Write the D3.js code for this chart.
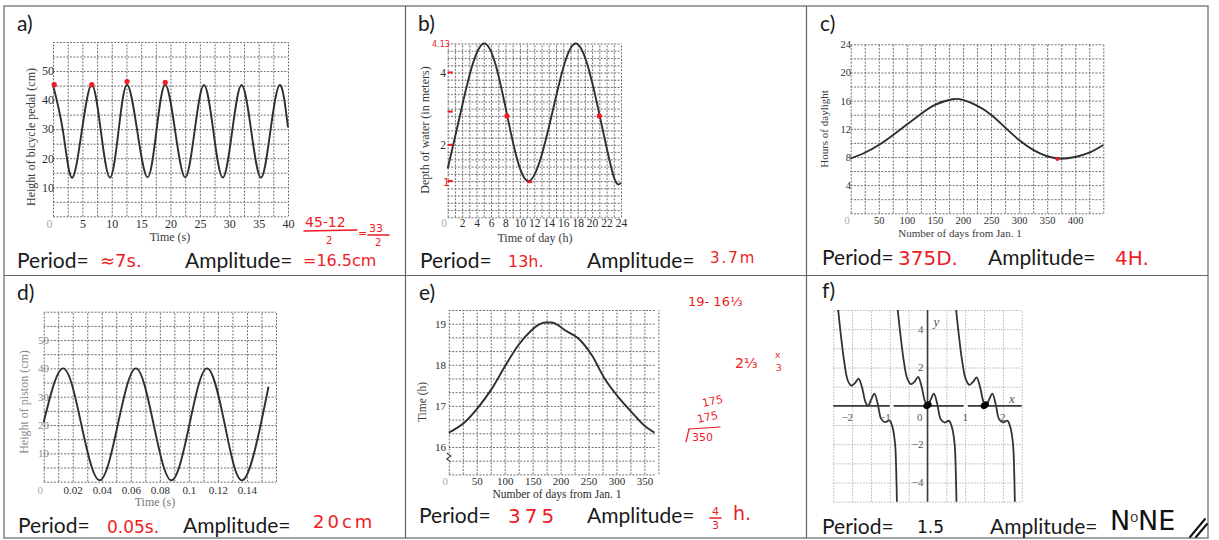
<!DOCTYPE html>
<html>
<head>
<meta charset="utf-8">
<title>Period and amplitude</title>
<script src="https://cdn.jsdelivr.net/npm/d3@7"></script>
<style>
  body { margin: 0; background: #fff; }
  svg { display: block; }
  .task { font-family: Lato, "Open Sans", sans-serif; font-size: 21px; fill: #1a1a1a; }
  .hand { font-family: "DejaVu Sans", sans-serif; fill: #ee1c25; }
  .ink  { font-family: "DejaVu Sans", sans-serif; fill: #111; }
</style>
</head>
<body>
<svg id="sheet" width="1219" height="540"></svg>
<script>

// a) bicycle pedal
const aTime   = [0, 1.7, 3.2, 4.9, 6.6, 8.15, 9.7, 11.15, 12.6, 14.35, 16.1, 17.6, 19.1, 20.8, 22.5, 24.1, 25.7, 27.3, 28.9, 30.5, 32.1, 33.75, 35.4, 37.0, 38.6, 40];
const aHeight = [45.2, 29.3, 13.3, 29.3, 45.3, 29.3, 13.3, 29.3, 45.3, 29.3, 13.4, 29.3, 45.3, 29.3, 13.4, 29.3, 45.2, 29.3, 13.3, 29.3, 45.2, 29.3, 13.3, 29.3, 45.2, 30.6];
const aTicksX = [0, 5, 10, 15, 20, 25, 30, 35, 40];
const aTicksY = [10, 20, 30, 40, 50];
const aDotT = [0.2, 6.6, 12.6, 19.1];
const aDotH = [45.3, 45.3, 46.4, 46.1];

// b) depth of water
const bTime  = [0, 1.8, 5.0, 8.2, 11.2, 14.5, 17.8, 21.0, 23.0, 24];
const bDepth = [1.35, 2.9, 4.8, 2.85, 1.0, 2.9, 4.8, 2.85, 1.12, 0.95];
const bTicksX = [0, 2, 4, 6, 8, 10, 12, 14, 16, 18, 20, 22, 24];
const bTicksY = [2, 4];
const bDotT = [8.2, 21.0];
const bDotD = [2.8, 2.8];
const bDashD = [4, 2.92, 2, 1];

// c) hours of daylight
const cDay   = [0, 25, 50, 75, 100, 125, 150, 181, 200, 225, 250, 275, 300, 325, 350, 375, 400, 425, 450];
const cHours = [7.8, 8.6, 9.7, 11.1, 12.6, 14.1, 15.4, 16.2, 16.1, 15.3, 14.0, 12.2, 10.4, 9.0, 8.1, 7.75, 8.0, 8.6, 9.7];
const cTicksX = [0, 50, 100, 150, 200, 250, 300, 350, 400];
const cTicksY = [4, 8, 12, 16, 20, 24];

// d) piston
const dTime   = [0, 0.0135, 0.026, 0.0385, 0.051, 0.0635, 0.0758, 0.088, 0.1003, 0.1125, 0.1248, 0.137, 0.1494, 0.1548];
const dHeight = [21, 40, 20, 0.5, 20, 40, 20, 0.5, 20, 40, 20, 0.5, 20, 33.5];
const dTicksX = [0, 0.02, 0.04, 0.06, 0.08, 0.1, 0.12, 0.14];
const dTicksY = [10, 20, 30, 40, 50];

// e) time of sunset
const eDay  = [0, 29, 53, 77, 100, 124, 148, 160, 172, 184, 196, 208, 232, 256, 279, 303, 327, 351, 368];
const eTime = [16.35, 16.61, 16.97, 17.42, 17.95, 18.47, 18.84, 18.97, 19.03, 19.03, 18.96, 18.84, 18.64, 18.23, 17.66, 17.22, 16.85, 16.51, 16.35];
const eTicksX = [0, 50, 100, 150, 200, 250, 300, 350];
const eTicksY = [16, 17, 18, 19];

// f) periodic function, three branches
const fLeftX  = [-2.38, -2.30, -2.21, -2.12, -2.02, -1.92, -1.83, -1.74, -1.65, -1.58, -1.49, -1.41, -1.32, -1.23, -1.12, -1.01, -0.93, -0.86, -0.83, -0.81];
const fLeftY  = [5.2, 3.7, 2.3, 1.35, 1.05, 1.2, 1.42, 0.98, 0.22, 0.0, 0.35, 0.64, 0.1, -0.68, -0.85, -0.76, -1.1, -2.0, -3.4, -5.2];
const fMidX   = [-0.80, -0.72, -0.63, -0.54, -0.44, -0.34, -0.25, -0.16, -0.07, 0.0, 0.09, 0.17, 0.26, 0.35, 0.46, 0.57, 0.65, 0.72, 0.75, 0.77];
const fMidY   = [5.2, 3.74, 2.35, 1.44, 1.13, 1.27, 1.51, 1.04, 0.26, 0.03, 0.35, 0.64, 0.09, -0.70, -0.87, -0.78, -1.13, -2.0, -3.39, -5.2];
const fRightX = [0.75, 0.83, 0.92, 1.01, 1.11, 1.21, 1.30, 1.39, 1.48, 1.55, 1.64, 1.72, 1.81, 1.90, 2.01, 2.12, 2.20, 2.27, 2.30, 2.32];
const fRightY = [5.2, 3.72, 2.33, 1.42, 1.1, 1.25, 1.48, 1.02, 0.25, 0.02, 0.35, 0.64, 0.09, -0.7, -0.86, -0.77, -1.12, -2.0, -3.4, -5.2];
const fTicksX = [-2, -1, 0, 1, 2];
const fTicksY = [4, 2, -2, -4];
const fDotX = [0.0, 1.52];

const panelNames = ["a)", "b)", "c)", "d)", "e)", "f)"];

const svg = d3.select("#sheet");
const serif = "'Liberation Serif', 'DejaVu Serif', serif";

// table lines
svg.append("rect").attr("x", 4).attr("y", 6).attr("width", 1204).attr("height", 532)
  .attr("fill", "none").attr("stroke", "#8c8c8c").attr("stroke-width", 1.6);
[405.5, 806.5].forEach(cx => svg.append("line").attr("x1", cx).attr("x2", cx).attr("y1", 6).attr("y2", 538)
  .attr("stroke", "#666").attr("stroke-width", 1.2));
svg.append("line").attr("x1", 4).attr("x2", 1208).attr("y1", 275.5).attr("y2", 275.5)
  .attr("stroke", "#666").attr("stroke-width", 1.2);

// panel letters + task line
const labelPos = [[17, 31], [418, 31], [820, 31], [17, 300], [419, 300], [822, 298]];
const taskPos = [[17, 268, 185], [420, 268, 587], [822, 265, 988], [18, 533, 183], [419, 523, 587], [822, 534, 990]];
panelNames.forEach((n, i) => {
  svg.append("text").attr("class", "task").attr("x", labelPos[i][0]).attr("y", labelPos[i][1]).text(n);
  svg.append("text").attr("class", "task").attr("x", taskPos[i][0]).attr("y", taskPos[i][1]).text("Period=");
  svg.append("text").attr("class", "task").attr("x", taskPos[i][2]).attr("y", taskPos[i][1]).text("Amplitude=");
});

function steps(d, s) {
  return d3.range(Math.round((d[1] - d[0]) / s) + 1).map(i => d[0] + i * s);
}

function gridPanel(o) {
  const x = d3.scaleLinear().domain(o.xd).range(o.xr);
  const y = d3.scaleLinear().domain(o.yd).range(o.yr);
  const g = svg.append("g");
  const h = o.yr[0] - o.yr[1], w = o.xr[1] - o.xr[0];
  g.append("g")
    .attr("transform", `translate(0,${o.yr[0]})`)
    .call(d3.axisBottom(x).tickValues(steps(o.xd, o.xs)).tickSize(-h).tickFormat(""))
    .call(s => s.select(".domain").remove())
    .selectAll("line").attr("stroke", o.grid || "#707070").attr("stroke-dasharray", o.dash || "2,1.4");
  g.append("g")
    .attr("transform", `translate(${o.xr[0]},0)`)
    .call(d3.axisLeft(y).tickValues(steps(o.yd, o.ys)).tickSize(-w).tickFormat(""))
    .call(s => s.select(".domain").remove())
    .selectAll("line").attr("stroke", o.grid || "#707070").attr("stroke-dasharray", o.dash || "2,1.4");
  return { g, x, y };
}

function tickLabels(p, o) {
  const bx = p.g.append("g").attr("transform", `translate(0,${o.base})`)
    .call(d3.axisBottom(p.x).tickValues(o.xt).tickSize(0).tickPadding(0).tickFormat(d3.format("")));
  bx.select(".domain").remove();
  bx.attr("font-family", serif).attr("font-size", o.size);
  bx.selectAll("text").attr("y", 0).attr("dy", 0).attr("fill", o.xcol || "#2e2e2e");
  bx.selectAll("text").filter(d => d === 0).attr("fill", "#ababab").attr("x", -4);

  const ly = p.g.append("g").attr("transform", `translate(${o.yx},0)`)
    .call(d3.axisLeft(p.y).tickValues(o.yt).tickSize(0).tickPadding(0).tickFormat(d3.format("")));
  ly.select(".domain").remove();
  ly.attr("font-family", serif).attr("font-size", o.size);
  ly.selectAll("text").attr("fill", o.ycol || "#2e2e2e");

  p.g.append("text").attr("transform", `translate(${o.ytx},${o.yty}) rotate(-90)`)
    .attr("text-anchor", "middle").attr("font-family", serif).attr("font-size", o.tsize)
    .attr("fill", o.ycol || "#3a3a3a").text(o.ytitle);
  p.g.append("text").attr("x", o.xtx).attr("y", o.xty)
    .attr("text-anchor", "middle").attr("font-family", serif).attr("font-size", o.tsize)
    .attr("fill", o.xtcol || "#3a3a3a").text(o.xtitle);
}

function curve(p, xs, ys, kind) {
  p.g.append("path").datum(d3.zip(xs, ys))
    .attr("fill", "none").attr("stroke", "#2f2f2f").attr("stroke-width", 1.9)
    .attr("stroke-linejoin", "round")
    .attr("d", d3.line().x(d => p.x(d[0])).y(d => p.y(d[1])).curve(kind || d3.curveNatural));
}

function hand(t, x, y, size, cls) {
  return svg.append("text").attr("class", cls || "hand").attr("x", x).attr("y", y)
    .attr("font-size", size).text(t);
}
function stroke(x1, y1, x2, y2, col, w) {
  svg.append("line").attr("x1", x1).attr("y1", y1).attr("x2", x2).attr("y2", y2)
    .attr("stroke", col || "#ee1c25").attr("stroke-width", w || 1.5).attr("stroke-linecap", "round");
}

// ---------- a)
const pa = gridPanel({ xd: [0, 40], xr: [53, 288], yd: [0, 60], yr: [216.3, 42], xs: 2.5, ys: 5 });
tickLabels(pa, { xt: aTicksX, yt: aTicksY, base: 228, yx: 54, size: 12, tsize: 12,
  ytitle: "Height of bicycle pedal (cm)", ytx: 35, yty: 137, xtitle: "Time (s)", xtx: 170, xty: 241 });
curve(pa, aTime, aHeight);
pa.g.selectAll(".dot").data(d3.zip(aDotT, aDotH)).join("circle")
  .attr("cx", d => pa.x(d[0])).attr("cy", d => pa.y(d[1])).attr("r", 2.6).attr("fill", "#ee1c25");

hand("≈7s.", 100, 267, 18);
hand("=16.5cm", 303, 266, 16);
hand("45-12", 305, 227, 14);
stroke(304, 231, 357, 230);
hand("2", 326, 244, 10);
hand("=", 358, 237, 11);
hand("33", 369, 232, 11);
stroke(368, 235, 389, 235);
hand("2", 375, 246, 10);

// ---------- b)
const pb = gridPanel({ xd: [0, 24], xr: [447.7, 621], yd: [0, 4.8], yr: [217.3, 43.5], xs: 1, ys: 0.2 });
tickLabels(pb, { xt: bTicksX, yt: bTicksY, base: 227, yx: 446, size: 11.5, tsize: 12,
  ytitle: "Depth of water (in meters)", ytx: 429, yty: 130, xtitle: "Time of day (h)", xtx: 535, xty: 242 });
curve(pb, bTime, bDepth);
pb.g.selectAll(".dot").data(d3.zip(bDotT, bDotD)).join("circle")
  .attr("cx", d => pb.x(d[0])).attr("cy", d => pb.y(d[1])).attr("r", 2.6).attr("fill", "#ee1c25");
pb.g.selectAll(".dash").data(bDashD).join("line")
  .attr("x1", pb.x(0)).attr("x2", pb.x(0) + 5).attr("y1", d => pb.y(d)).attr("y2", d => pb.y(d))
  .attr("stroke", "#ee1c25").attr("stroke-width", 2.2);
pb.g.append("line").attr("x1", pb.x(11.0)).attr("x2", pb.x(11.7)).attr("y1", pb.y(0.98)).attr("y2", pb.y(0.98))
  .attr("stroke", "#ee1c25").attr("stroke-width", 2.6);
hand("1", 443, 186, 11);
hand("4.13", 432, 47, 8);
hand("13h.", 508, 267, 16);
hand("3.7m", 710, 263, 15).attr("letter-spacing", 2);

// ---------- c)
const pc = gridPanel({ xd: [0, 450], xr: [850.7, 1103.3], yd: [0, 24], yr: [213.3, 44.3], xs: 25, ys: 2 });
tickLabels(pc, { xt: cTicksX, yt: cTicksY, base: 223.5, yx: 851, size: 10.5, tsize: 11,
  ytitle: "Hours of daylight", ytx: 828, yty: 129, xtitle: "Number of days from Jan. 1", xtx: 960, xty: 237 });
curve(pc, cDay, cHours);
pc.g.append("circle").attr("cx", pc.x(368)).attr("cy", pc.y(7.7)).attr("r", 2).attr("fill", "#ee1c25");
hand("375D.", 898, 265, 20);
hand("4H.", 1115, 265, 20);

// ---------- d)
const pd = gridPanel({ xd: [0, 0.16], xr: [43.7, 276], yd: [0, 60], yr: [481.7, 311.7], xs: 0.01, ys: 5 });
tickLabels(pd, { xt: dTicksX, yt: dTicksY, base: 493.5, yx: 49, size: 11, tsize: 12, ycol: "#8a8a8a",
  ytitle: "Height of piston (cm)", ytx: 28, yty: 402, xtitle: "Time (s)", xtx: 155, xty: 506, xtcol: "#777" });
curve(pd, dTime, dHeight);
hand("0.05s.", 107, 533, 17);
hand("20cm", 313, 528, 18).attr("letter-spacing", 3);

// ---------- e)
const pe = gridPanel({ xd: [0, 370], xr: [448.8, 655.6], yd: [15 + 1 / 3, 19 + 1 / 3], yr: [474.4, 310], xs: 25, ys: 1 / 3 });
tickLabels(pe, { xt: eTicksX, yt: eTicksY, base: 484.5, yx: 446, size: 11, tsize: 11.5,
  ytitle: "Time (h)", ytx: 426, yty: 402, xtitle: "Number of days from Jan. 1", xtx: 557, xty: 498, xtcol: "#2a2a2a" });
curve(pe, eDay, eTime, d3.curveMonotoneX);
// broken-axis mark
pe.g.append("rect").attr("x", pe.x(0) - 3).attr("y", 453).attr("width", 6).attr("height", 10).attr("fill", "#fff");
pe.g.append("path").attr("d", `M${pe.x(0) - 2},453 l4,3 l-4,3 l4,3`).attr("fill", "none")
  .attr("stroke", "#444").attr("stroke-width", 1.2);
hand("19- 16⅓", 688, 306, 13);
hand("2⅓", 735, 368, 14);
hand("x", 775, 358, 9);
hand("3", 776, 371, 9);
hand("175", 703, 407, 11).attr("transform", "rotate(-12,703,407)");
hand("175", 698, 423, 11).attr("transform", "rotate(-12,698,423)");
hand("350", 692, 441, 11);
stroke(689, 429, 720, 427, "#ee1c25", 1.2);
stroke(689, 429, 686, 442, "#ee1c25", 1.2);
hand("375", 508, 523, 20).attr("letter-spacing", 4);
hand("4", 712, 515, 11);
stroke(710, 518, 721, 518);
hand("3", 712, 529, 11);
hand("h.", 733, 520, 19);

// ---------- f)
const pf = gridPanel({ xd: [-2.5, 2.5], xr: [833.3, 1021.7], yd: [-5, 5], yr: [501.7, 310], xs: 0.5, ys: 1,
  grid: "#a8a8a8", dash: "1.3,1.7" });
pf.g.append("line").attr("x1", pf.x(-2.5)).attr("x2", pf.x(2.5)).attr("y1", pf.y(0)).attr("y2", pf.y(0))
  .attr("stroke", "#3c3c3c").attr("stroke-width", 1.6);
pf.g.append("line").attr("x1", pf.x(0)).attr("x2", pf.x(0)).attr("y1", pf.y(5)).attr("y2", pf.y(-5))
  .attr("stroke", "#3c3c3c").attr("stroke-width", 1.6);
[[-1.0, -0.9], [0.96, 1.07]].forEach(r => pf.g.append("rect").attr("x", pf.x(r[0])).attr("y", pf.y(0) - 2)
  .attr("width", pf.x(r[1]) - pf.x(r[0])).attr("height", 4).attr("fill", "#fff"));
svg.append("defs").append("clipPath").attr("id", "fclip").append("rect")
  .attr("x", pf.x(-2.5)).attr("y", pf.y(5)).attr("width", pf.x(2.5) - pf.x(-2.5)).attr("height", pf.y(-5) - pf.y(5));
const fCurves = pf.g.append("g").attr("clip-path", "url(#fclip)");
[[fLeftX, fLeftY], [fMidX, fMidY], [fRightX, fRightY]].forEach(b => {
  fCurves.append("path").datum(d3.zip(b[0], b[1]))
    .attr("fill", "none").attr("stroke", "#333").attr("stroke-width", 1.8)
    .attr("d", d3.line().x(d => pf.x(d[0])).y(d => pf.y(d[1])).curve(d3.curveCatmullRom.alpha(0.5)));
});
pf.g.selectAll(".fx").data(fTicksX).join("text")
  .attr("x", d => d < 0 ? pf.x(d) + 1 : d === 0 ? pf.x(0) - 5 : pf.x(d))
  .attr("y", pf.y(0) + 15)
  .attr("text-anchor", d => d <= 0 ? "end" : "middle")
  .attr("font-family", serif).attr("font-size", 11).attr("fill", "#555")
  .text(d => d < 0 ? "−" + Math.abs(d) : d);
pf.g.selectAll(".fy").data(fTicksY).join("text")
  .attr("x", pf.x(0) - 4).attr("y", d => pf.y(d)).attr("dy", "0.35em")
  .attr("text-anchor", "end")
  .attr("font-family", serif).attr("font-size", 11).attr("fill", "#555")
  .text(d => d < 0 ? "−" + Math.abs(d) : d);
pf.g.append("text").attr("x", pf.x(0) + 6).attr("y", 326).attr("font-family", serif)
  .attr("font-style", "italic").attr("font-size", 13).attr("fill", "#555").text("y");
pf.g.append("text").attr("x", 1009).attr("y", 403).attr("font-family", serif)
  .attr("font-style", "italic").attr("font-size", 13).attr("fill", "#555").text("x");
pf.g.selectAll(".bdot").data(fDotX).join("ellipse")
  .attr("cx", d => pf.x(d)).attr("cy", pf.y(0.03)).attr("rx", 4.5).attr("ry", 3.4)
  .attr("transform", d => `rotate(-35,${pf.x(d)},${pf.y(0.03)})`).attr("fill", "#050505");

hand("1.5", 917, 533, 17, "ink");
const none = hand("N", 1110, 530, 27, "ink");
none.append("tspan").attr("font-size", 10).attr("dy", -8).text("O");
none.append("tspan").attr("dy", 8).text("NE");
stroke(1190, 537, 1205, 519, "#111", 2);
stroke(1196, 537, 1207, 524, "#111", 2);
</script>
</body>
</html>
